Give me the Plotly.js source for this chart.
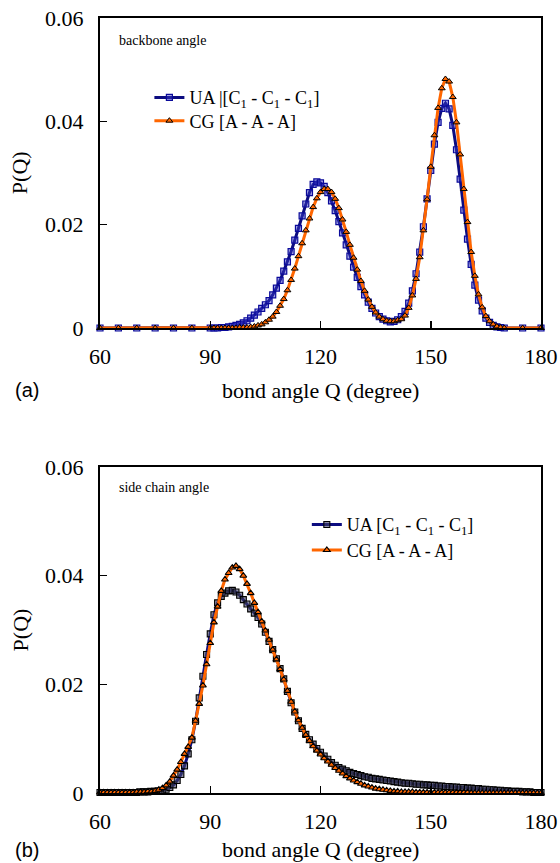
<!DOCTYPE html>
<html>
<head>
<meta charset="utf-8">
<script src="https://cdn.plot.ly/plotly-3.0.1.min.js"></script>
<style>html,body{margin:0;padding:0;background:#fff;}</style>
</head>
<body>
<div id="chart" style="width:560px;height:863px;"></div>
<script>
// ---- (a) backbone angle ----
const topAngle = [60,65,70,75,80,85,
  90,91,92,93,94,95,96,97,98,99,
  100,101,102,103,104,105,106,107,108,109,
  110,111,112,113,114,115,116,117,118,119,
  120,121,122,123,124,125,126,127,128,129,
  130,131,132,133,134,135,136,137,138,139,
  140,141,142,143,144,145,146,147,148,149,
  150,151,152,153,154,155,156,157,158,159,
  160,161,162,163,164,165,166,167,168,169,
  170,175,180];
const topUA = [0,0,0,0,0,0,
  0,0,0,0.0001,0.0001,0.0002,0.0003,0.0005,0.0007,0.0010,
  0.0014,0.0019,0.0025,0.0031,0.0038,0.0045,0.0053,0.0064,0.0077,0.0092,
  0.0110,0.0128,0.0148,0.0170,0.0193,0.0217,0.0240,0.0262,0.0278,0.0283,
  0.0281,0.0274,0.0262,0.0246,0.0227,0.0206,0.0184,0.0161,0.0139,0.0118,
  0.0098,0.0080,0.0064,0.0050,0.0038,0.0029,0.0022,0.0017,0.0014,0.0012,
  0.0013,0.0016,0.0022,0.0032,0.0048,0.0072,0.0105,0.0147,0.0196,0.0250,
  0.0305,0.0356,0.0398,0.0425,0.0435,0.0424,0.0392,0.0345,0.0288,0.0228,
  0.0172,0.0123,0.0083,0.0054,0.0033,0.0019,0.0011,0.0005,0.0002,0.0001,
  0,0,0];
const topCG = [0,0,0,0,0,0,
  0,0,0,0,0,0,0,0,0.0001,0.0001,
  0.0001,0.0002,0.0003,0.0005,0.0007,0.0011,0.0016,0.0022,0.0031,0.0043,
  0.0056,0.0073,0.0093,0.0115,0.0139,0.0164,0.0189,0.0212,0.0234,0.0251,
  0.0263,0.0269,0.0269,0.0263,0.0250,0.0232,0.0210,0.0186,0.0161,0.0136,
  0.0113,0.0091,0.0072,0.0055,0.0041,0.0030,0.0022,0.0017,0.0014,0.0013,
  0.0013,0.0015,0.0017,0.0024,0.0039,0.0063,0.0095,0.0137,0.0189,0.0249,
  0.0312,0.0373,0.0426,0.0464,0.0482,0.0477,0.0447,0.0398,0.0336,0.0269,
  0.0205,0.0147,0.0101,0.0065,0.0040,0.0023,0.0013,0.0007,0.0003,0.0001,
  0,0,0];

// ---- (b) side chain angle ----
const botAngle = [60,61,62,63,64,65,66,67,68,69,
  70,71,72,73,74,75,76,77,78,79,
  80,81,82,83,84,85,86,87,88,89,
  90,91,92,93,94,95,96,97,98,99,
  100,101,102,103,104,105,106,107,108,109,
  110,111,112,113,114,115,116,117,118,119,
  120,121,122,123,124,125,126,127,128,129,
  130,131,132,133,134,135,136,137,138,139,
  140,141,142,143,144,145,146,147,148,149,
  150,151,152,153,154,155,156,157,158,159,
  160,161,162,163,164,165,166,167,168,169,
  170,171,172,173,174,175,176,177,178,179,180];
const botUA = [0.0001,0.0001,0.0001,0.0001,0.0001,0.0001,0.0001,0.0001,0.0001,0.0001,
  0.0001,0.0002,0.0002,0.0002,0.0003,0.0003,0.0004,0.0005,0.0007,0.0010,
  0.0015,0.0023,0.0034,0.0050,0.0072,0.0098,0.0132,0.0175,0.0215,0.0255,
  0.0293,0.0328,0.0350,0.0362,0.0368,0.0372,0.0373,0.0370,0.0364,0.0356,
  0.0348,0.0339,0.0331,0.0323,0.0311,0.0296,0.0279,0.0264,0.0247,0.0229,
  0.0210,0.0187,0.0166,0.0149,0.0133,0.0119,0.0108,0.0098,0.0090,0.0082,
  0.0075,0.0068,0.0062,0.0056,0.0051,0.0047,0.0044,0.0041,0.0038,0.0036,
  0.0034,0.0032,0.0030,0.0029,0.0027,0.0026,0.0025,0.0024,0.0023,0.0022,
  0.0021,0.0020,0.0019,0.0018,0.0018,0.0017,0.0016,0.0016,0.0015,0.0015,
  0.0014,0.0014,0.0013,0.0013,0.0012,0.0012,0.0011,0.0011,0.0010,0.0010,
  0.0009,0.0009,0.0008,0.0008,0.0007,0.0007,0.0006,0.0006,0.0005,0.0005,
  0.0004,0.0004,0.0003,0.0003,0.0003,0.0002,0.0002,0.0002,0.0001,0.0001,0.0001];
const botCG = [0.0001,0.0001,0.0001,0.0001,0.0001,0.0001,0.0001,0.0001,0.0001,0.0001,
  0.0002,0.0002,0.0002,0.0003,0.0003,0.0004,0.0006,0.0009,0.0014,0.0021,
  0.0032,0.0043,0.0057,0.0072,0.0085,0.0102,0.0133,0.0164,0.0198,0.0237,
  0.0276,0.0314,0.0343,0.0372,0.0393,0.0405,0.0415,0.0418,0.0412,0.0400,
  0.0385,0.0368,0.0350,0.0333,0.0316,0.0299,0.0282,0.0264,0.0246,0.0228,
  0.0209,0.0188,0.0168,0.0150,0.0134,0.0120,0.0107,0.0096,0.0086,0.0078,
  0.0071,0.0064,0.0058,0.0052,0.0046,0.0041,0.0036,0.0031,0.0027,0.0023,
  0.0020,0.0017,0.0014,0.0012,0.0010,0.0008,0.0007,0.0006,0.0005,0.0004,
  0.0003,0.0003,0.0002,0.0002,0.0002,0.0002,0.0001,0.0001,0.0001,0.0001,
  0.0001,0.0001,0.0001,0.0001,0.0001,0.0001,0.0001,0.0001,0.0001,0.0001,
  0.0001,0,0,0,0,0,0,0,0,0,
  0,0,0,0,0,0,0,0,0,0,0];

const xTicks = [60, 90, 120, 150, 180];
const yTicks = [0, 0.02, 0.04, 0.06];
const yTickText = ['0', '0.02', '0.04', '0.06'];

const serif = 'Liberation Serif';
const blue = '#0c0c80';
const orange = '#ff6600';

const traces = [
  {x: topAngle, y: topUA, xaxis: 'x', yaxis: 'y', type: 'scatter', mode: 'lines+markers',
   name: 'UA |[C<sub>1</sub> - C<sub>1</sub> - C<sub>1</sub>]', legend: 'legend', cliponaxis: false,
   line: {color: blue, width: 3},
   marker: {symbol: 'square', size: 6, color: 'rgba(60,60,200,0.45)', line: {color: '#0a0a9a', width: 1.2}}},
  {x: topAngle, y: topCG, xaxis: 'x', yaxis: 'y', type: 'scatter', mode: 'lines+markers',
   name: 'CG [A - A - A]', legend: 'legend2', cliponaxis: false,
   line: {color: orange, width: 3},
   marker: {symbol: 'triangle-up', size: 6, color: orange, line: {color: '#000', width: 1}}},
  {x: botAngle, y: botUA, xaxis: 'x2', yaxis: 'y2', type: 'scatter', mode: 'lines+markers',
   name: 'UA [C<sub>1</sub> - C<sub>1</sub> - C<sub>1</sub>]', legend: 'legend3', cliponaxis: false,
   line: {color: blue, width: 3},
   marker: {symbol: 'square', size: 6, color: 'rgba(70,70,100,0.6)', line: {color: '#000', width: 1.1}}},
  {x: botAngle, y: botCG, xaxis: 'x2', yaxis: 'y2', type: 'scatter', mode: 'lines+markers',
   name: 'CG [A - A - A]', legend: 'legend4', cliponaxis: false,
   line: {color: orange, width: 3},
   marker: {symbol: 'triangle-up', size: 6, color: orange, line: {color: '#000', width: 1.1}}}
];

function xAx(anchor) {
  return {anchor: anchor, domain: [0, 1], range: [60, 180], tickvals: xTicks,
    ticks: 'inside', ticklen: 7, tickwidth: 1.5, tickcolor: '#000',
    showline: true, mirror: true, linecolor: '#000', linewidth: 2,
    showgrid: false, zeroline: false, ticklabelstandoff: 8,
    tickfont: {family: serif, size: 22, color: '#000'}};
}
function yAx(anchor, dom) {
  return {anchor: anchor, domain: dom, range: [0, 0.06], tickvals: yTicks, ticktext: yTickText,
    ticks: 'inside', ticklen: 7, tickwidth: 1.5, tickcolor: '#000',
    showline: true, mirror: true, linecolor: '#000', linewidth: 2,
    showgrid: false, zeroline: false, ticklabelstandoff: 10,
    tickfont: {family: serif, size: 22, color: '#000'}};
}
function leg(x, y) {
  return {x: x, xanchor: 'left', y: y, yanchor: 'top', bgcolor: 'rgba(0,0,0,0)',
    font: {family: serif, size: 18, color: '#000'}, itemwidth: 30};
}

const layout = {
  width: 560, height: 863,
  margin: {l: 100, r: 19, t: 18, b: 70},
  paper_bgcolor: '#fff', plot_bgcolor: '#fff',
  font: {family: serif, color: '#000'},
  xaxis: xAx('y'), yaxis: yAx('x', [0.6, 1]),
  xaxis2: xAx('y2'), yaxis2: yAx('x2', [0, 0.4206]),
  legend: leg(0.112, 0.921),
  legend2: leg(0.112, 0.891),
  legend3: leg(0.469, 0.370),
  legend4: leg(0.469, 0.337),
  showlegend: true,
  annotations: [
    {text: 'backbone angle', xref: 'paper', yref: 'paper', x: 0.0385, y: 0.9716, xanchor: 'left', yanchor: 'middle',
     showarrow: false, font: {family: serif, size: 14, color: '#000'}},
    {text: 'side chain angle', xref: 'paper', yref: 'paper', x: 0.0385, y: 0.3948, xanchor: 'left', yanchor: 'middle',
     showarrow: false, font: {family: serif, size: 14, color: '#000'}},
    {text: 'bond angle Q (degree)', xref: 'paper', yref: 'paper', x: 0.5, y: 0.52, xanchor: 'center', yanchor: 'middle',
     showarrow: false, font: {family: serif, size: 22, color: '#000'}},
    {text: 'bond angle Q (degree)', xref: 'paper', yref: 'paper', x: 0.5, y: -0.0735, xanchor: 'center', yanchor: 'middle',
     showarrow: false, font: {family: serif, size: 22, color: '#000'}},
    {text: 'P(Q)', xref: 'paper', yref: 'paper', x: -0.181, y: 0.8, xanchor: 'center', yanchor: 'middle', textangle: -90,
     showarrow: false, font: {family: serif, size: 22, color: '#000'}},
    {text: 'P(Q)', xref: 'paper', yref: 'paper', x: -0.181, y: 0.21, xanchor: 'center', yanchor: 'middle', textangle: -90,
     showarrow: false, font: {family: serif, size: 22, color: '#000'}},
    {text: '(a)', xref: 'paper', yref: 'paper', x: -0.1655, y: 0.52, xanchor: 'center', yanchor: 'middle',
     showarrow: false, font: {family: 'Liberation Sans', size: 20, color: '#000'}},
    {text: '(b)', xref: 'paper', yref: 'paper', x: -0.1655, y: -0.0735, xanchor: 'center', yanchor: 'middle',
     showarrow: false, font: {family: 'Liberation Sans', size: 20, color: '#000'}}
  ]
};

Plotly.newPlot('chart', traces, layout, {displayModeBar: false, staticPlot: true});
</script>
</body>
</html>
